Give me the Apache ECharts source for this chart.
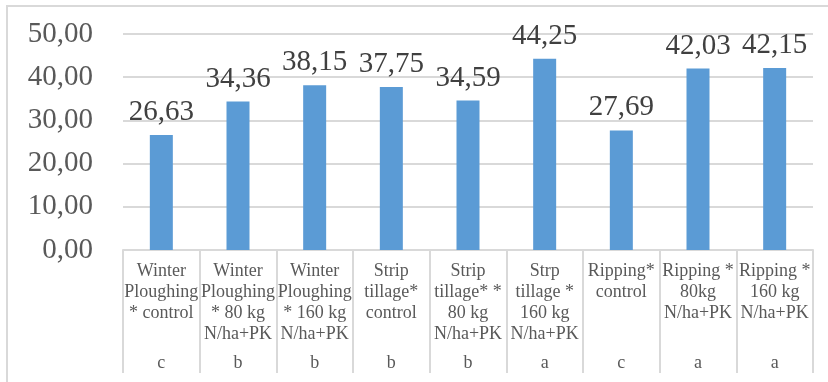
<!DOCTYPE html>
<html lang="en">
<head>
  <meta charset="UTF-8" />
  <title>Chart</title>
  <script src="https://cdn.jsdelivr.net/npm/echarts@6/dist/echarts.min.js"></script>
  <style>
    html, body { margin: 0; padding: 0; background: #fff; }
    #main { width: 828px; height: 382px; }
  </style>
</head>
<body>
  <div id="main"></div>
<script>
  // categories (treatments)
  var categories = [
    "Winter\nPloughing\n* control",
    "Winter\nPloughing\n* 80 kg\nN/ha+PK",
    "Winter\nPloughing\n* 160 kg\nN/ha+PK",
    "Strip\ntillage*\ncontrol",
    "Strip\ntillage* *\n80 kg\nN/ha+PK",
    "Strp\ntillage *\n160 kg\nN/ha+PK",
    "Ripping*\ncontrol",
    "Ripping *\n80kg\nN/ha+PK",
    "Ripping *\n160 kg\nN/ha+PK"
  ];
  // significance letters (second label row)
  var groups = ["c", "b", "b", "b", "b", "a", "c", "a", "a"];
  // values
  var values = [26.63, 34.36, 38.15, 37.75, 34.59, 44.25, 27.69, 42.03, 42.15];

  var fmt = function (v) { return v.toFixed(2).replace(".", ","); };

  var myChart = echarts.init(document.getElementById("main"));

  var option = {
    animation: false,
    textStyle: { fontFamily: "Liberation Serif" },
    graphic: [{
      type: "rect",
      shape: { x: 7, y: 6, width: 840, height: 400 },
      style: { fill: "none", stroke: "#d9d9d9", lineWidth: 2 },
      silent: true
    }],
    grid: { left: 123, right: 15, top: 34, bottom: 132 },
    xAxis: [
      {
        type: "category",
        data: categories,
        axisLine: { lineStyle: { color: "#d9d9d9", width: 2 } },
        axisTick: { show: true, length: 123, lineStyle: { color: "#d9d9d9", width: 2 } },
        axisLabel: {
          interval: 0,
          margin: 11,
          color: "#595959",
          fontSize: 18,
          lineHeight: 21,
          fontFamily: "Liberation Serif"
        }
      },
      {
        type: "category",
        position: "bottom",
        data: categories,
        axisLine: { show: false },
        axisTick: { show: false },
        axisLabel: {
          interval: 0,
          margin: 103,
          color: "#595959",
          fontSize: 18,
          lineHeight: 21,
          fontFamily: "Liberation Serif",
          formatter: function (v, i) { return groups[i]; }
        }
      }
    ],
    yAxis: {
      type: "value",
      min: 0,
      max: 50,
      interval: 10,
      axisLine: { show: false },
      axisTick: { show: false },
      splitLine: { lineStyle: { color: "#d9d9d9", width: 2 } },
      axisLabel: {
        margin: 30,
        color: "#595959",
        fontSize: 29,
        fontFamily: "Liberation Serif",
        formatter: fmt
      }
    },
    series: [{
      type: "bar",
      data: values,
      barWidth: 23,
      itemStyle: { color: "#5b9bd5" },
      label: {
        show: true,
        position: "top",
        distance: 8,
        color: "#404040",
        fontSize: 29,
        fontFamily: "Liberation Serif",
        formatter: function (p) { return fmt(p.value); }
      }
    }]
  };

  myChart.setOption(option);
</script>
</body>
</html>
